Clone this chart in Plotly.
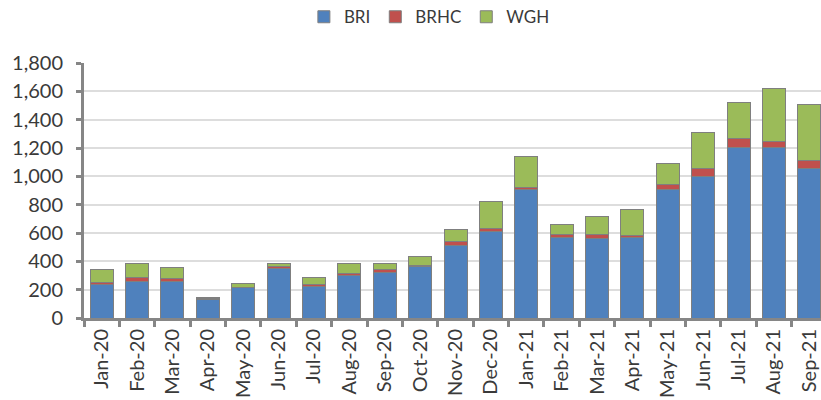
import plotly.graph_objects as go

months = ["Jan-20", "Feb-20", "Mar-20", "Apr-20", "May-20", "Jun-20", "Jul-20",
          "Aug-20", "Sep-20", "Oct-20", "Nov-20", "Dec-20", "Jan-21", "Feb-21",
          "Mar-21", "Apr-21", "May-21", "Jun-21", "Jul-21", "Aug-21", "Sep-21"]

bri = [233, 260, 260, 128, 212, 348, 224, 300, 324, 367, 512, 612, 905, 567,
       560, 567, 909, 1000, 1207, 1207, 1056]
brhc = [19, 28, 16, 9, 5, 19, 16, 17, 16, 5, 28, 23, 16, 24,
        26, 17, 35, 54, 61, 42, 57]
wgh = [93, 95, 84, 8, 28, 16, 43, 66, 43, 65, 88, 186, 222, 70,
       129, 183, 148, 258, 250, 372, 393]

y_ticks = [0, 200, 400, 600, 800, 1000, 1200, 1400, 1600, 1800]
y_tick_text = ["0", "200", "400", "600", "800", "1,000", "1,200", "1,400", "1,600", "1,800"]

series = [("BRI", bri, "#4F81BD"), ("BRHC", brhc, "#C0504D"), ("WGH", wgh, "#9BBB59")]

font_family = "Lato, 'Liberation Sans', sans-serif"
text_color = "#3A3A3A"

fig = go.Figure()
for name, vals, color in series:
    fig.add_trace(go.Bar(
        x=months, y=vals, name=name,
        marker=dict(color=color, line=dict(color="#7F7F7F", width=1)),
    ))

fig.update_layout(
    width=821, height=400,
    barmode="stack", bargap=0.35,
    margin=dict(l=84, r=0, t=63, b=82),
    paper_bgcolor="white", plot_bgcolor="white",
    font=dict(family=font_family, color=text_color, size=19),
    legend=dict(
        orientation="h", xref="container", yref="container",
        x=0.523, xanchor="center", y=0.957, yanchor="middle",
        font=dict(size=17, color=text_color),
        traceorder="normal", itemwidth=30, tracegroupgap=0,
    ),
    showlegend=True,
)

fig.update_xaxes(
    type="category", range=[-0.5, 20.33],
    showline=True, linecolor="#868686", linewidth=3,
    ticks="outside", tickson="boundaries", ticklen=6, tickwidth=3, tickcolor="#868686",
    tickangle=-90, tickfont=dict(size=20, color=text_color),
    showgrid=False,
)
fig.update_yaxes(
    range=[0, 1800], tickvals=y_ticks, ticktext=y_tick_text,
    showline=True, linecolor="#868686", linewidth=3,
    ticks="outside", ticklen=5, tickwidth=3, tickcolor="#868686",
    showgrid=True, gridcolor="#DDDDDD", gridwidth=1.5,
    tickfont=dict(size=20, color=text_color),
    ticklabelstandoff=9,
    zeroline=False,
)

fig.write_html("out.html")
